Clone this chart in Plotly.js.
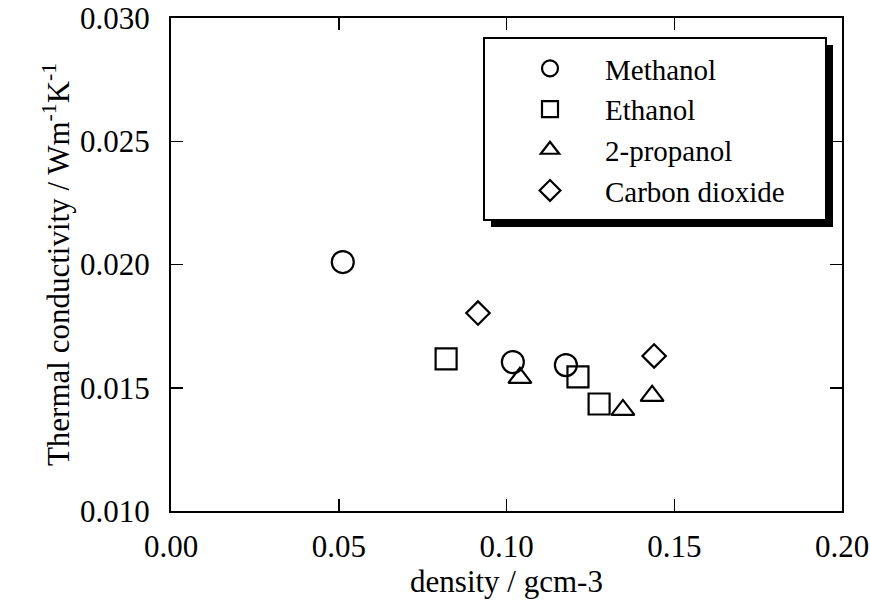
<!DOCTYPE html>
<html>
<head>
<meta charset="utf-8">
<script src="https://cdn.plot.ly/plotly-3.0.1.min.js"></script>
<style>html,body{margin:0;padding:0;background:#fff;}#chart{width:870px;height:604px;}</style>
</head>
<body>
<div id="chart"></div>
<script>
const seriesNames = ["Methanol", "Ethanol", "2-propanol", "Carbon dioxide"];
const methanolX = [0.0512, 0.1019, 0.1177];
const methanolY = [0.0201, 0.01604, 0.01592];
const ethanolX = [0.0820, 0.1213, 0.1276];
const ethanolY = [0.01617, 0.01544, 0.01434];
const propanolX = [0.1040, 0.1347, 0.1434];
const propanolY = [0.0154, 0.0141, 0.01467];
const co2X = [0.0915, 0.1440];
const co2Y = [0.01803, 0.01629];
const xTicks = [0.00, 0.05, 0.10, 0.15, 0.20];
const yTicks = [0.010, 0.015, 0.020, 0.025, 0.030];

const symbols = ["circle-open", "square-open", "triangle-up-open", "diamond-open"];
const sizes = [22, 21, 20, 18];
const xs = [methanolX, ethanolX, propanolX, co2X];
const ys = [methanolY, ethanolY, propanolY, co2Y];

const traces = seriesNames.map((n, i) => ({
  type: "scatter", mode: "markers", name: n, x: xs[i], y: ys[i],
  marker: {symbol: symbols[i], size: sizes[i], color: "#000", line: {width: 2.2, color: "#000"}}
}));

const fam = "Liberation Serif, Times New Roman, serif";
const f = s => ({family: fam, size: s, color: "#000"});
const axisCommon = {
  showline: true, linewidth: 2, linecolor: "#000", mirror: "ticks",
  ticks: "inside", ticklen: 12, tickwidth: 1.5, tickcolor: "#000",
  showgrid: false, zeroline: false,
  tickfont: f(31)
};

const L = 171, R = 842, T = 18, B = 511;
const px = v => (v - L) / (R - L);
const py = v => (B - v) / (B - T);

const layout = {
  width: 870, height: 604,
  margin: {l: L, r: 870 - R, t: T, b: 604 - B},
  paper_bgcolor: "#fff", plot_bgcolor: "#fff",
  font: f(31),
  showlegend: true,
  xaxis: Object.assign({}, axisCommon, {
    range: [0, 0.2], tickvals: xTicks, tickformat: ".2f", ticklabelstandoff: 7,
    title: {text: "density / gcm-3", font: f(31), standoff: 1}
  }),
  yaxis: Object.assign({}, axisCommon, {
    range: [0.010, 0.030], tickvals: yTicks, tickformat: ".3f", ticklabelstandoff: 13,
    title: {text: "Thermal conductivity / Wm<sup>-1</sup>K<sup>-1</sup>", font: f(31), standoff: 1}
  }),
  legend: {
    x: px(495), y: py(43), xanchor: "left", yanchor: "top",
    bgcolor: "rgba(0,0,0,0)", borderwidth: 0,
    font: f(29),
    itemwidth: 100
  },
  shapes: [
    {type: "rect", xref: "paper", yref: "paper", layer: "above",
     x0: px(491), x1: px(833), y0: py(45), y1: py(227),
     fillcolor: "#000", line: {width: 0}},
    {type: "rect", xref: "paper", yref: "paper", layer: "above",
     x0: px(484), x1: px(826), y0: py(38), y1: py(220),
     fillcolor: "#fff", line: {width: 2, color: "#000"}}
  ]
};

Plotly.newPlot("chart", traces, layout, {displayModeBar: false, staticPlot: true});
</script>
</body>
</html>
